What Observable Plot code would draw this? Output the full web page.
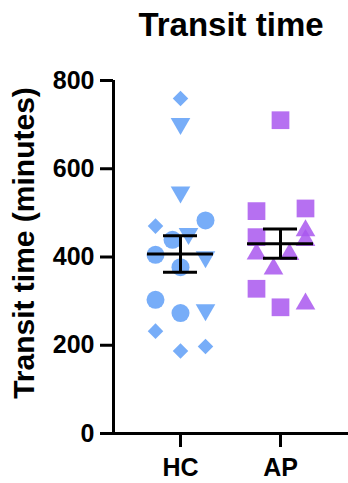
<!DOCTYPE html>
<html>
<head>
<meta charset="utf-8">
<script src="https://cdn.jsdelivr.net/npm/d3@7"></script>
<script src="https://cdn.jsdelivr.net/npm/@observablehq/plot@0.6"></script>
<style>
  html, body { margin: 0; padding: 0; background: #fff; }
  #chart svg { display: block; font-family: "Liberation Sans", Arial, sans-serif; }
</style>
</head>
<body>
<div id="chart"></div>
<script>
// ---- data ----
const title = "Transit time";
const yLabel = "Transit time (minutes)";
const groups = ["HC", "AP"];
const yTicks = [0, 200, 400, 600, 800];

const hcValues = [759, 702, 547, 470, 483, 453, 439, 405, 400, 377, 303, 273, 280, 232, 187, 197];
const hcShapes = ["diamond", "down", "down", "diamond", "circle", "down", "circle", "circle", "down", "circle", "circle", "circle", "down", "diamond", "diamond", "diamond"];
const hcJitter = [0, 0, 0, -0.25, 0.25, 0.08, -0.08, -0.25, 0.25, 0, -0.25, 0, 0.25, -0.25, 0, 0.25];

const apValues = [710, 504, 510, 460, 438, 445, 407, 406, 373, 328, 286, 294];
const apShapes = ["square", "square", "square", "up", "up", "square", "up", "up", "up", "square", "square", "up"];
const apJitter = [0, -0.24, 0.25, 0.25, 0.25, -0.24, -0.24, 0.09, -0.07, -0.24, 0, 0.25];

const colors = {HC: "#5f9ff7", AP: "#a957ee"};

// ---- build table ----
const points = [];
[[hcValues, hcShapes, hcJitter], [apValues, apShapes, apJitter]].forEach(([vals, shapes, jit], gi) => {
  vals.forEach((v, i) => points.push({group: groups[gi], gx: gi + 1, x: gi + 1 + jit[i], value: v, shape: shapes[i]}));
});
const stats = groups.map((g, gi) => {
  const vals = gi === 0 ? hcValues : apValues;
  const m = d3.mean(vals);
  const sem = d3.deviation(vals) / Math.sqrt(vals.length);
  return {group: g, gx: gi + 1, mean: m, lo: m - sem, hi: m + sem};
});

const font = "Liberation Sans, Arial, sans-serif";
const xDomain = [0.33, 2.68];
const shapeSpec = {
  circle: {symbol: "circle", r: 9, rotate: 0},
  diamond: {symbol: "diamond2", r: 7, rotate: 0},
  down: {symbol: "triangle", r: 7.3, rotate: 180},
  up: {symbol: "triangle", r: 7.3, rotate: 0},
  square: {symbol: "square", r: 10, rotate: 0}
};

const dotMarks = Object.entries(shapeSpec).map(([k, s]) => Plot.dot(points.filter(d => d.shape === k), {
  x: "x", y: "value", symbol: () => s.symbol, r: s.r, rotate: s.rotate,
  fill: d => colors[d.group], fillOpacity: 0.85, stroke: "none"
}));

const plot = Plot.plot({
  width: 348,
  height: 483,
  marginTop: 80,
  marginBottom: 50,
  marginLeft: 113,
  marginRight: 0,
  style: {fontFamily: font, background: "#fff", overflow: "visible"},
  x: {type: "linear", domain: xDomain, axis: null},
  y: {domain: [0, 800], axis: null},
  symbol: {type: "identity"},
  marks: [
    ...dotMarks,
    // mean line
    Plot.ruleY(stats, {y: "mean", x1: d => d.gx - 0.33, x2: d => d.gx + 0.33, stroke: "#000", strokeWidth: 3}),
    // SEM caps
    Plot.ruleY(stats, {y: "lo", x1: d => d.gx - 0.17, x2: d => d.gx + 0.17, stroke: "#000", strokeWidth: 3}),
    Plot.ruleY(stats, {y: "hi", x1: d => d.gx - 0.17, x2: d => d.gx + 0.17, stroke: "#000", strokeWidth: 3}),
    Plot.ruleX(stats, {x: "gx", y1: "lo", y2: "hi", stroke: "#000", strokeWidth: 3}),
    // axes
    Plot.axisY({ticks: yTicks, tickSize: 13, tickPadding: 6, strokeWidth: 3, fontSize: 25, fontWeight: "bold", fill: "#000", label: null}),
    Plot.axisX({ticks: [1, 2], tickFormat: d => groups[d - 1], tickSize: 14, tickPadding: 11, strokeWidth: 3, fontSize: 25, fontWeight: "bold", fill: "#000", label: null}),
    Plot.ruleX([xDomain[0]], {y1: 0, y2: 800, stroke: "#000", strokeWidth: 3}),
    Plot.ruleY([0], {stroke: "#000", strokeWidth: 3}),
    // y label
    Plot.text([yLabel], {frameAnchor: "left", textAnchor: "middle", rotate: -90, dx: -89, dy: -14, fontSize: 30, fontWeight: "bold", fill: "#000"}),
    // title
    Plot.text([title], {frameAnchor: "top", lineAnchor: "middle", dy: -55, fontSize: 33, fontWeight: "bold", fill: "#000"})
  ]
});
document.getElementById("chart").appendChild(plot);
</script>
</body>
</html>
